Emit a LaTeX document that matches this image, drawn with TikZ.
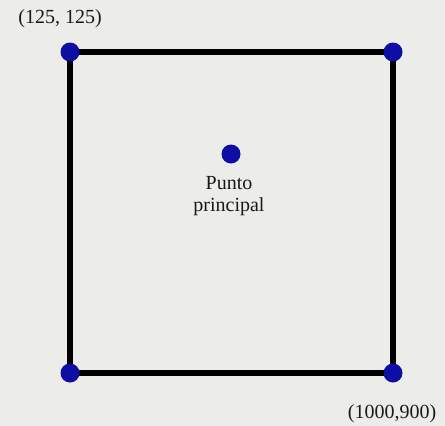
\documentclass[tikz,border=0pt]{standalone}
\usepackage{fontspec}
\setmainfont{Liberation Serif}
\definecolor{bg}{RGB}{236,236,233}
\definecolor{dotblue}{RGB}{14,14,165}
\tikzset{
  corner/.style={circle,fill=dotblue,inner sep=0pt,minimum size=19pt},
  edge/.style={line width=5.5pt,black},
  lbl/.style={font=\fontsize{20}{22}\selectfont,inner sep=0pt,align=center,text=black!90}
}
\begin{document}
\begin{tikzpicture}[x=1pt,y=-1pt]
\fill[bg] (0,0) rectangle (445,426);
\useasboundingbox (0,0) rectangle (445,426);
\coordinate (tl) at (70,52);
\coordinate (tr) at (393,52);
\coordinate (br) at (393,373);
\coordinate (bl) at (70,373);
\draw[edge] (tl) -- (tr) -- (br) -- (bl) -- cycle;
\node[corner] (ctl) at (tl) {};
\node[corner] (ctr) at (tr) {};
\node[corner] (cbr) at (br) {};
\node[corner] (cbl) at (bl) {};
\node[corner] (pp) at (231,154) {};
\node[lbl,anchor=north] (pplbl) at (229,176) {Punto\\principal};
\node[lbl] (ltl) at (60,19) {(125, 125)};
\node[lbl] (lbr) at (392,414) {(1000,900)};
\end{tikzpicture}
\end{document}
